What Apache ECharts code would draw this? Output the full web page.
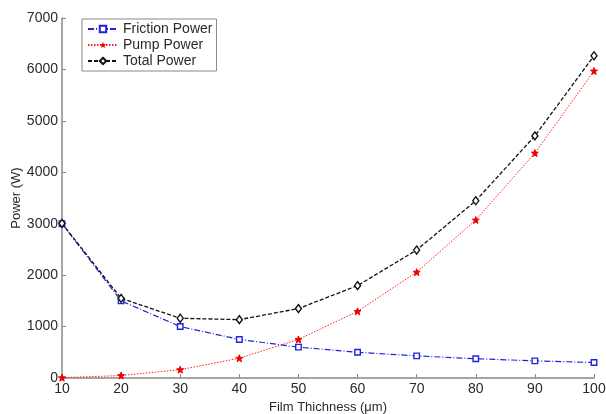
<!DOCTYPE html>
<html><head><meta charset="utf-8">
<script src="https://cdn.jsdelivr.net/npm/echarts@6/dist/echarts.min.js"></script>
<style>html,body{margin:0;padding:0;background:#fff}#c{width:606px;height:414px}</style>
</head><body><div id="c"></div>
<script>
const thickness = [10,20,30,40,50,60,70,80,90,100];
const friction = [3000,1500,1000,750,600,500,430,375,333,300];
const pump = [6,48,162,384,750,1296,2058,3072,4374,5970];
const total = [3006,1548,1162,1134,1350,1796,2488,3447,4707,6265];
const yTicks = [0,1000,2000,3000,4000,5000,6000,7000];
const pair = a => thickness.map((x,i)=>[x,a[i]]);
const font = 'Liberation Sans';
const txt = '#2a2a2a';
const chart = echarts.init(document.getElementById('c'));
chart.setOption({
  animation:false,
  grid:{left:62,right:12,top:18,bottom:36,containLabel:false,outerBoundsMode:'none'},
  legend:{
    left:82, top:19, orient:'vertical', itemGap:2, itemWidth:30, itemHeight:8,
    backgroundColor:'#fff', borderColor:'#888', borderWidth:1, padding:[3,4,3,5],
    textStyle:{fontFamily:font,fontSize:14,color:txt,lineHeight:14},
    data:['Friction Power','Pump Power','Total Power']
  },
  xAxis:{type:'value',min:10,max:100,interval:10,
    name:'Film Thichness (μm)',nameLocation:'middle',nameGap:23,nameMoveOverlap:false,
    nameTextStyle:{fontFamily:font,fontSize:13,color:txt},
    axisLine:{show:true,lineStyle:{color:'#888',width:1.5}},
    axisTick:{show:true,inside:true,length:4,lineStyle:{color:'#888'}},
    axisLabel:{fontFamily:font,fontSize:14,color:txt,margin:4},
    splitLine:{show:false}},
  yAxis:{type:'value',min:0,max:7000,interval:1000,
    name:'Power (W)',nameLocation:'middle',nameGap:39,nameMoveOverlap:false,
    nameTextStyle:{fontFamily:font,fontSize:13,color:txt},
    axisLine:{show:true,lineStyle:{color:'#888',width:1.5}},
    axisTick:{show:true,inside:true,length:4,lineStyle:{color:'#888'}},
    axisLabel:{fontFamily:font,fontSize:14,color:txt,margin:4,
      formatter:v=>yTicks.includes(v)?String(v):''},
    splitLine:{show:false}},
  series:[
    {name:'Friction Power',type:'line',data:pair(friction),symbol:'rect',symbolSize:5.5,
     lineStyle:{color:'#2222dd',width:1.2,type:[6,2,1,2]},
     itemStyle:{color:'#fff',borderColor:'#2222dd',borderWidth:1.4},color:'#2222dd',z:3},
    {name:'Pump Power',type:'line',data:pair(pump),
     symbol:'path://M0,-10L2.5,-3.5L9.5,-3.1L4,1.2L5.9,8.1L0,4.2L-5.9,8.1L-4,1.2L-9.5,-3.1L-2.5,-3.5Z',symbolSize:7,
     lineStyle:{color:'#ff2020',width:1,type:[1.5,1.5]},
     itemStyle:{color:'#ee0000',borderColor:'#ee0000'},color:'#ee0000',z:2},
    {name:'Total Power',type:'line',data:pair(total),symbol:'diamond',symbolSize:[6,8],
     lineStyle:{color:'#111',width:1.3,type:[4,2]},
     itemStyle:{color:'#fff',borderColor:'#111',borderWidth:1.4},color:'#111',z:4}
  ]
});
</script></body></html>
